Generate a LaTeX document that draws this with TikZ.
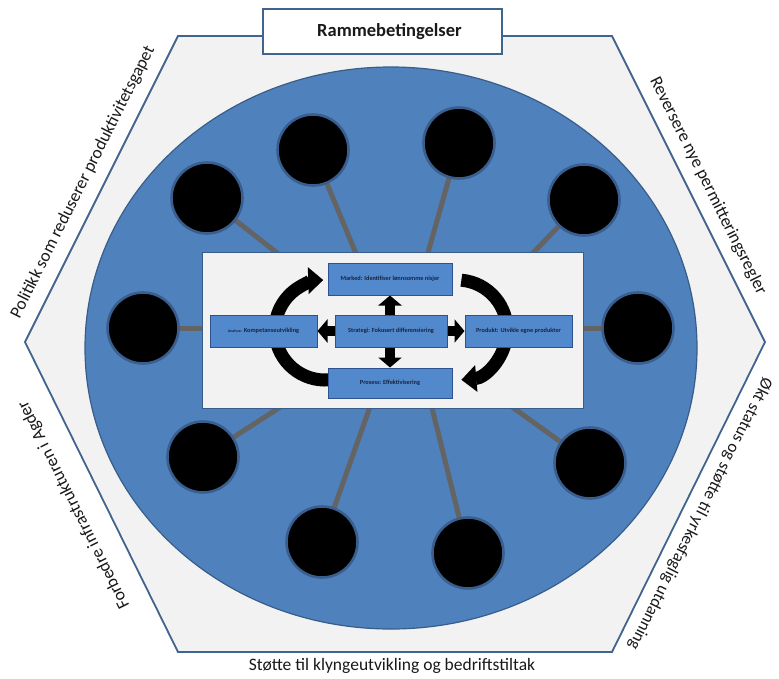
\documentclass[tikz,border=0pt]{standalone}
\usepackage{fontspec}
\setmainfont{Carlito}
\usetikzlibrary{arrows.meta,shapes.geometric}
\definecolor{hexfill}{RGB}{242,242,242}
\definecolor{hexline}{RGB}{65,100,143}
\definecolor{blobc}{RGB}{79,129,189}
\definecolor{blobline}{RGB}{56,93,138}
\definecolor{ringc}{RGB}{58,95,142}
\definecolor{linkc}{RGB}{100,100,100}
\definecolor{boxfill}{RGB}{82,137,205}
\definecolor{boxline}{RGB}{47,82,143}
\definecolor{boxtext}{RGB}{25,35,65}
\pgfdeclarelayer{l1}
\pgfdeclarelayer{l2}
\pgfdeclarelayer{l3}
\pgfdeclarelayer{l4}
\pgfsetlayers{l1,l2,l3,l4,main}
\begin{document}
\begin{tikzpicture}[x=1pt,y=-1pt,
  hexstyle/.style={fill=hexfill, draw=hexline, line width=1.8pt, line join=miter},
  titlebox/.style={draw=hexline, fill=white, line width=1.8pt, minimum width=239pt, minimum height=45pt, inner sep=0pt, font=\fontsize{18.5}{18.5}\selectfont\bfseries, text=black!90},
  sidelabel/.style={font=\fontsize{17.5}{17.5}\selectfont, text=black!90, inner sep=0pt},
  blobstyle/.style={ellipse, fill=blobc, draw=blobline, line width=1.2pt, minimum width=612pt, minimum height=562pt, inner sep=0pt},
  dot/.style={circle, fill=black, draw=ringc, line width=2.6pt, minimum size=71pt, inner sep=0pt},
  link/.style={draw=linkc, line width=5pt},
  panel/.style={fill=hexfill, draw=blobline, line width=1pt, minimum width=381pt, minimum height=156pt, inner sep=0pt},
  stagebox/.style={fill=boxfill, draw=boxline, line width=1pt, minimum height=32pt, inner sep=0pt, font=\fontsize{6.3}{6.3}\selectfont\bfseries, text=boxtext},
  cyclearrow/.style={line width=13pt, draw=black, -{Triangle[width=26pt,length=15pt]}},
  crossarrow/.style={line width=10pt, draw=black, {Triangle[width=23pt,length=10pt]}-{Triangle[width=23pt,length=10pt]}}
]
\useasboundingbox (0,0) rectangle (779,678);

% ---------- background layer: hexagon, ellipse, title, labels
\begin{pgfonlayer}{l1}
\coordinate (h1) at (178,36);
\coordinate (h2) at (612,36);
\coordinate (h3) at (765,342);
\coordinate (h4) at (612,652);
\coordinate (h5) at (178,652);
\coordinate (h6) at (25,342);
\draw[hexstyle] (h1) -- (h2) -- (h3) -- (h4) -- (h5) -- (h6) -- cycle;
\node[blobstyle] (blob) at (391,348) {};
\node[titlebox] (title) at (382.5,31.5) {\hspace*{14pt}Rammebetingelser};
\node[sidelabel, rotate=63.4] (lUL) at (83,182) {Politikk som reduserer produktivitetsgapet};
\node[sidelabel, rotate=-63.4] (lUR) at (708,186) {Reversere nye permitteringsregler};
\node[sidelabel, rotate=116.6] (lLL) at (74,505) {Forbedre infrastrukturen i Agder};
\node[sidelabel, rotate=-116.6, font=\fontsize{17}{17}\selectfont] (lLR) at (700,514) {Økt status og støtte til yrkesfaglig utdanning};
\node[sidelabel] (lB) at (392,666) {Støtte til klyngeutvikling og bedriftstiltak};
\end{pgfonlayer}

% ---------- circles and the central panel
\begin{pgfonlayer}{l3}
\node[panel] (wb) at (392.5,330) {};
\node[dot] (cA) at (313,150) {};
\node[dot] (cB) at (207,198) {};
\node[dot] (cC) at (459,143) {};
\node[dot] (cD) at (584,200) {};
\node[dot] (cE) at (143,328) {};
\node[dot] (cF) at (638,328) {};
\node[dot] (cG) at (203,457) {};
\node[dot] (cH) at (322,542) {};
\node[dot] (cI) at (590,463) {};
\node[dot] (cJ) at (468,553) {};
\end{pgfonlayer}

% ---------- connectors (behind circles and panel)
\coordinate (eA) at (357,256);
\coordinate (eB) at (281,256);
\coordinate (eC) at (427,256);
\coordinate (eD) at (530,256);
\coordinate (eE) at (206,328);
\coordinate (eF) at (579,328);
\coordinate (eG) at (285,404);
\coordinate (eH) at (371,404);
\coordinate (eI) at (508,404);
\coordinate (eJ) at (431,404);
\begin{pgfonlayer}{l2}
\draw[link] (cA.center) -- (eA);
\draw[link] (cB.center) -- (eB);
\draw[link] (cC.center) -- (eC);
\draw[link] (cD.center) -- (eD);
\draw[link] (cE.center) -- (eE);
\draw[link] (cF.center) -- (eF);
\draw[link] (cG.center) -- (eG);
\draw[link] (cH.center) -- (eH);
\draw[link] (cI.center) -- (eI);
\draw[link] (cJ.center) -- (eJ);
\end{pgfonlayer}

% ---------- stage boxes
\node[stagebox, minimum width=124pt] (mk) at (390,279) {Marked: Identifiser lønnsomme nisjer};
\node[stagebox, minimum width=112pt] (st) at (391,331) {Strategi: Fokusert differensiering};
\node[stagebox, minimum width=107pt] (an) at (263.5,331) {{\fontsize{4}{4}\selectfont Analyse:} Kompetanseutvikling};
\node[stagebox, minimum width=107pt] (pr) at (518.5,331) {Produkt: Utvikle egne produkter};
\node[stagebox, minimum width=124pt, minimum height=30pt] (ps) at (390,383) {Prosess: Effektivisering};

% ---------- arrows
\coordinate (cycL) at (325,330);
\coordinate (cycR) at (457,330);
\begin{pgfonlayer}{l4}
\draw[cyclearrow] ([shift={(85:50)}]cycL) arc[start angle=85, end angle=268, radius=50];
\draw[cyclearrow] ([shift={(275:50)}]cycR) arc[start angle=275, end angle=445, radius=50];
\draw[crossarrow] (mk.south) -- (ps.north);
\draw[crossarrow] (an.east) -- (pr.west);
\end{pgfonlayer}
\end{tikzpicture}
\end{document}
